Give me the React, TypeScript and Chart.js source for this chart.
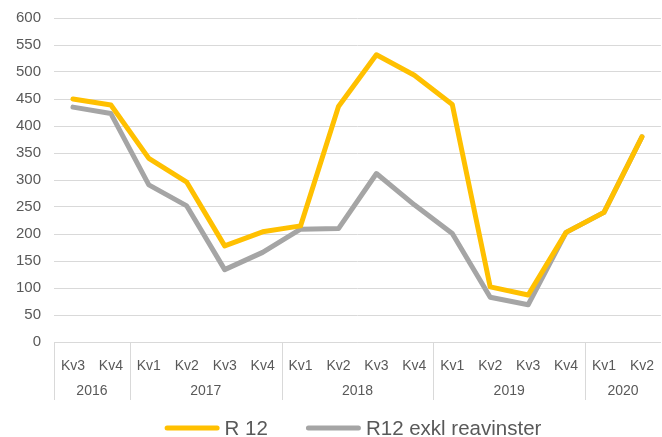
import React, { useEffect, useRef } from "react";
import { Chart, registerables } from "chart.js";

Chart.register(...registerables);

const quarters = ["Kv3", "Kv4", "Kv1", "Kv2", "Kv3", "Kv4", "Kv1", "Kv2", "Kv3", "Kv4", "Kv1", "Kv2", "Kv3", "Kv4", "Kv1", "Kv2"];
const years = ["2016", "2017", "2018", "2019", "2020"];
const yearSpans = [2, 4, 4, 4, 2];
const r12 = [450, 439, 340, 296, 178, 204, 215, 436, 532, 494, 440, 102, 87, 203, 240, 380];
const r12Exkl = [435, 423, 291, 252, 134, 166, 209, 210, 312, 254, 201, 83, 69, 203, 240, 380];
const seriesNames = ["R 12", "R12 exkl reavinster"];
const seriesColors = ["#FFC000", "#A5A5A5"];
const yTicks = [0, 50, 100, 150, 200, 250, 300, 350, 400, 450, 500, 550, 600];

const textColor = "#595959";
const gridColor = "#D9D9D9";
const fontFamily = "'Liberation Sans', Arial, sans-serif";

const yearPlugin = {
  id: "yearGroups",
  afterDraw(chart: any) {
    const ctx = chart.ctx;
    const x = chart.scales.x;
    const area = chart.chartArea;
    const step = x.getPixelForValue(1) - x.getPixelForValue(0);
    ctx.save();
    ctx.strokeStyle = gridColor;
    ctx.lineWidth = 1;
    ctx.beginPath();
    ctx.moveTo(area.left, Math.round(area.bottom) + 0.5);
    ctx.lineTo(area.right, Math.round(area.bottom) + 0.5);
    ctx.stroke();
    let idx = 0;
    ctx.font = `14px ${fontFamily}`;
    ctx.fillStyle = textColor;
    ctx.textAlign = "center";
    ctx.textBaseline = "middle";
    years.forEach((yr, g) => {
      const first = idx;
      const last = idx + yearSpans[g] - 1;
      const left = x.getPixelForValue(first) - step / 2;
      const cx = (x.getPixelForValue(first) + x.getPixelForValue(last)) / 2;
      ctx.beginPath();
      ctx.moveTo(Math.round(left) + 0.5, area.bottom);
      ctx.lineTo(Math.round(left) + 0.5, area.bottom + 58);
      ctx.stroke();
      ctx.fillText(yr, cx, area.bottom + 49);
      idx += yearSpans[g];
    });

    // legend
    ctx.font = `20.5px ${fontFamily}`;
    ctx.textAlign = "left";
    const lineLen = 55;
    const gap = 5;
    const itemGap = 38;
    const w0 = ctx.measureText(seriesNames[0]).width;
    const w1 = ctx.measureText(seriesNames[1]).width;
    const total = lineLen + gap + w0 + itemGap + lineLen + gap + w1;
    let lx = 353 - total / 2;
    const ly = 428;
    ctx.lineCap = "round";
    ctx.lineWidth = 5;
    seriesNames.forEach((name, i) => {
      ctx.strokeStyle = seriesColors[i];
      ctx.beginPath();
      ctx.moveTo(lx + 2.5, ly);
      ctx.lineTo(lx + lineLen - 2.5, ly);
      ctx.stroke();
      ctx.fillStyle = textColor;
      ctx.fillText(name, lx + lineLen + gap, ly + 1);
      lx += lineLen + gap + (i === 0 ? w0 : w1) + itemGap;
    });
    ctx.restore();
  },
};

export default function App() {
  const ref = useRef<HTMLCanvasElement>(null);
  useEffect(() => {
    document.body.style.margin = "0";
    const chart = new Chart(ref.current!, {
      type: "line",
      data: {
        labels: quarters,
        datasets: [
          {
            label: seriesNames[0],
            data: r12,
            borderColor: seriesColors[0],
            backgroundColor: seriesColors[0],
            borderWidth: 5,
            pointRadius: 0,
            tension: 0,
            borderJoinStyle: "round",
            borderCapStyle: "round",
          },
          {
            label: seriesNames[1],
            data: r12Exkl,
            borderColor: seriesColors[1],
            backgroundColor: seriesColors[1],
            borderWidth: 5,
            pointRadius: 0,
            tension: 0,
            borderJoinStyle: "round",
            borderCapStyle: "round",
          },
        ],
      },
      options: {
        animation: false,
        responsive: false,
        layout: { padding: { top: 18, right: 0, left: 0, bottom: 0 } },
        plugins: {
          tooltip: { enabled: false },
          legend: { display: false },
        },
        scales: {
          x: {
            offset: true,
            grid: { display: false },
            border: { display: false },
            ticks: {
              color: textColor,
              font: { size: 14, family: fontFamily },
              padding: 8,
              maxRotation: 0,
              autoSkip: false,
            },
            afterFit: (s: any) => {
              s.height = 95;
            },
          },
          y: {
            min: 0,
            max: 600,
            afterBuildTicks: (s: any) => {
              s.ticks = yTicks.map((v) => ({ value: v }));
            },
            grid: { color: gridColor, lineWidth: 1, drawTicks: false, tickLength: 0 },
            border: { display: false },
            ticks: {
              color: textColor,
              font: { size: 15, family: fontFamily, lineHeight: 0.5 },
              padding: 13,
            },
            afterFit: (s: any) => {
              s.width = 54;
            },
          },
        },
      },
      plugins: [yearPlugin],
    } as any);
    return () => chart.destroy();
  }, []);
  return <canvas ref={ref} width={662} height={437} style={{ display: "block" }} />;
}
